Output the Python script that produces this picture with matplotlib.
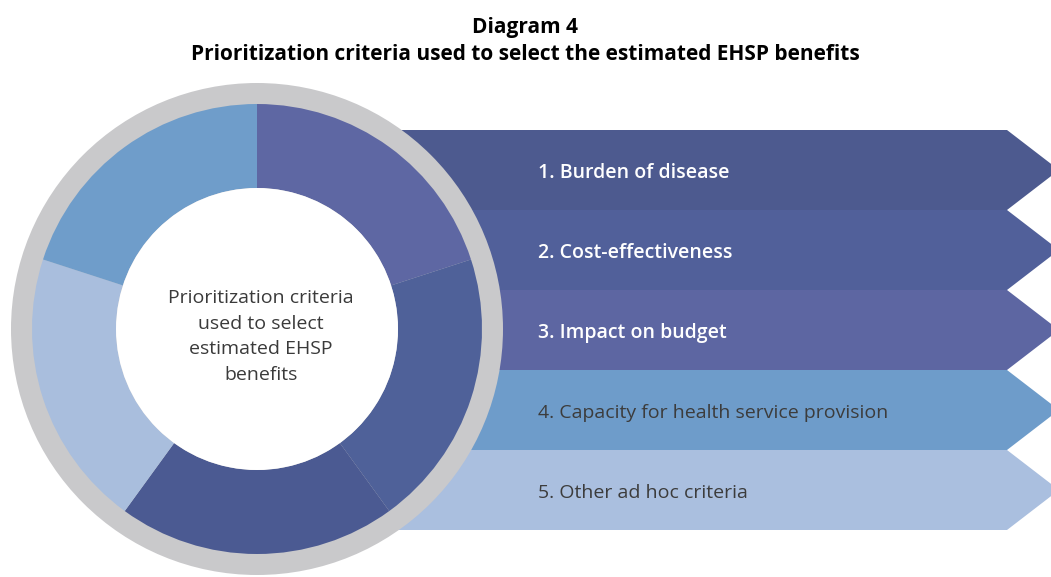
import matplotlib.pyplot as plt
from matplotlib.patches import Polygon, Circle

# criteria, top to bottom
criteria = [
    "1. Burden of disease",
    "2. Cost-effectiveness",
    "3. Impact on budget",
    "4. Capacity for health service provision",
    "5. Other ad hoc criteria",
]
band_colors = ["#4D5A8F", "#51609A", "#5D66A2", "#6E9CCA", "#AABFDF"]
label_colors = ["white", "white", "white", "#3C3C3C", "#3C3C3C"]
label_weights = ["semibold", "semibold", "semibold", "normal", "normal"]

# donut: five equal shares, clockwise from 12 o'clock
ring_shares = [1, 1, 1, 1, 1]
ring_colors = ["#5E67A3", "#4F6199", "#4B5A92", "#A9BEDD", "#6F9DCA"]

title_lines = ["Diagram 4",
               "Prioritization criteria used to select the estimated EHSP benefits"]
center_text = "Prioritization criteria\nused to select\nestimated EHSP\nbenefits"

W, H = 1051, 577
fig = plt.figure(figsize=(W / 100, H / 100), dpi=100)
fig.patch.set_facecolor("white")

# background axes in pixel units
ax = fig.add_axes([0, 0, 1, 1])
ax.set_xlim(0, W)
ax.set_ylim(H, 0)
ax.axis("off")

band_top = 130
band_h = 80
x0, notch_x, tip_x = 300, 1007, 1059
for i, (label, col) in enumerate(zip(criteria, band_colors)):
    top = band_top + i * band_h
    bot = top + band_h
    mid = (top + bot) / 2
    pts = [(x0, top), (notch_x, top), (tip_x, mid), (notch_x, bot), (x0, bot)]
    ax.add_patch(Polygon(pts, closed=True, facecolor=col, edgecolor="none"))
    ax.text(538, mid + 3, label, color=label_colors[i], fontsize=14,
            fontweight=label_weights[i], family="Open Sans",
            ha="left", va="center")

ax.text(525, 27, title_lines[0], ha="center", va="center", fontsize=15,
        fontweight="bold", family="Open Sans", color="black")
ax.text(525, 55, title_lines[1], ha="center", va="center", fontsize=15,
        fontweight="bold", family="Open Sans", color="black")

# donut axes
cx, cy, R = 257, 329, 246
dax = fig.add_axes([(cx - R) / W, (H - cy - R) / H, 2 * R / W, 2 * R / H])
dax.set_xlim(-1, 1)
dax.set_ylim(-1, 1)
dax.set_aspect("equal")
dax.axis("off")

r_out = 225 / R
r_in = 141 / R
dax.add_patch(Circle((0, 0), 1.0, facecolor="#C9C9CB", edgecolor="none"))
dax.pie(ring_shares, colors=ring_colors, startangle=90, counterclock=False,
        radius=r_out, wedgeprops=dict(width=r_out - r_in, edgecolor="none"))
dax.add_patch(Circle((0, 0), r_in, facecolor="white", edgecolor="none", zorder=3))
dax.set_xlim(-1, 1)
dax.set_ylim(-1, 1)
dax.text(0.015, -0.03, center_text, ha="center", va="center", fontsize=14,
         family="Open Sans", color="#3A3A3A", linespacing=1.55, zorder=4)

fig.savefig("out.png", dpi=100)
